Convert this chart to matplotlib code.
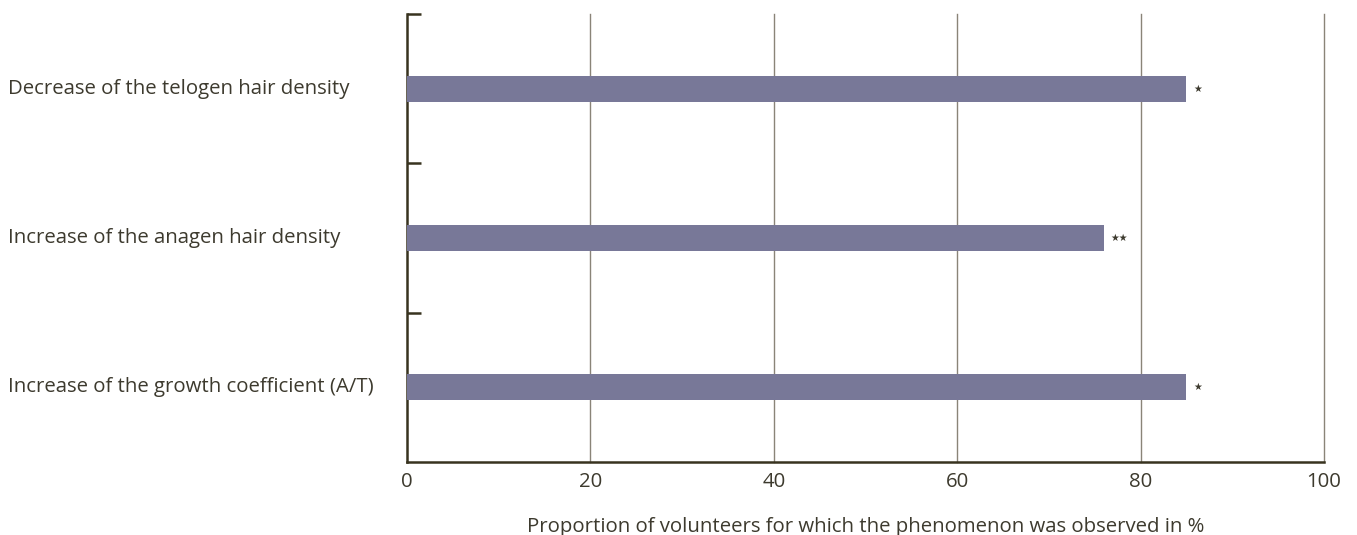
import matplotlib
matplotlib.use("Agg")
import matplotlib.pyplot as plt
from matplotlib.transforms import blended_transform_factory

categories = ["Decrease of the telogen hair density",
              "Increase of the anagen hair density",
              "Increase of the growth coefficient (A/T)"]
values = [85, 76, 85]
significance = ["*", "**", "*"]
xticks = [0, 20, 40, 60, 80, 100]

plt.rcParams['font.family'] = ['Open Sans', 'DejaVu Sans']
text_color = "#3d3a2e"
axis_color = "#38331f"
bar_color = "#787898"
grid_color = "#8a8478"
fs = 14.7

fig = plt.figure(figsize=(13.57, 5.35), dpi=100)
ax = fig.add_axes([407/1357, 73/535, (1324-407)/1357, (462-14)/535])

n = len(categories)
ypos = [n - 1 - i for i in range(n)]
ax.barh(ypos, values, height=0.175, color=bar_color, zorder=3)

for y, v, s in zip(ypos, values, significance):
    ax.text(v + 0.7, y, "★" * len(s), fontsize=7, color=text_color,
            va="center", ha="left", family="DejaVu Sans", zorder=4)

trans = blended_transform_factory(fig.transFigure, ax.transData)
for y, c in zip(ypos, categories):
    ax.text(8/1357, y, c, transform=trans, ha="left", va="center",
            fontsize=fs, color=text_color)

ax.set_xlim(0, 100)
ax.set_ylim(-0.5, n - 0.5)
ax.set_xticks(xticks)
ax.set_xticklabels([str(t) for t in xticks], fontsize=fs, color=text_color)
ax.tick_params(axis="x", length=0, pad=7)
ax.set_yticks([n - 0.5 - i for i in range(n)])
ax.set_yticklabels([])
ax.tick_params(axis="y", direction="in", length=10, width=1.8, color=axis_color)

for x in xticks[1:]:
    ax.axvline(x, color=grid_color, lw=1.0, zorder=1, clip_on=False)

for side in ["top", "right"]:
    ax.spines[side].set_visible(False)
for side in ["left", "bottom"]:
    ax.spines[side].set_color(axis_color)
    ax.spines[side].set_linewidth(1.8)

ax.set_xlabel("Proportion of volunteers for which the phenomenon was observed in %",
              fontsize=fs, color=text_color, labelpad=18)

fig.savefig("out.png", dpi=100)
